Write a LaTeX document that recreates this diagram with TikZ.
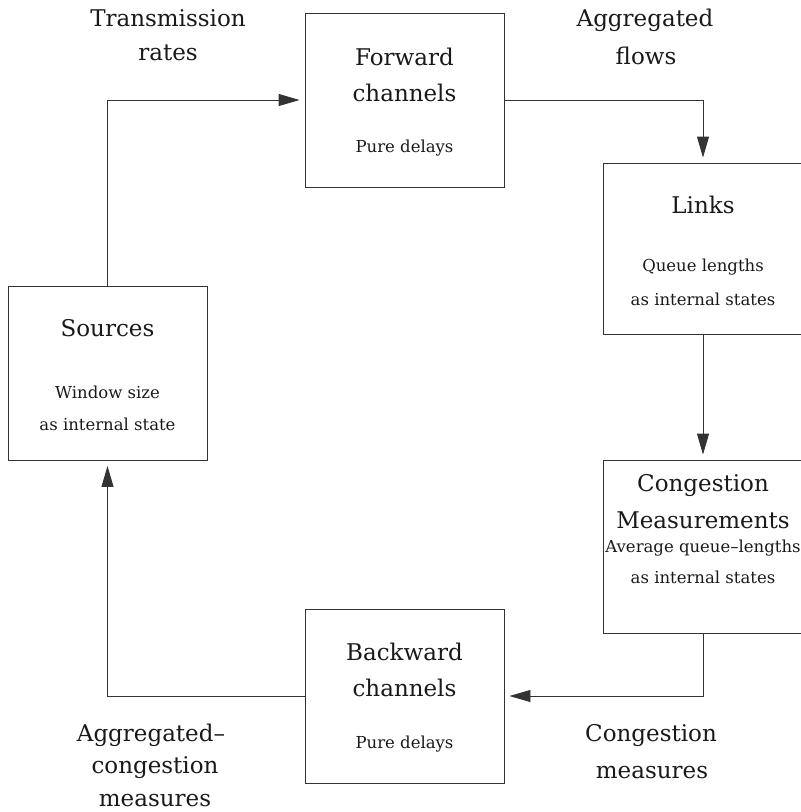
\documentclass[tikz,border=0pt]{standalone}
\usepackage{fontspec}
\setmainfont{DejaVu Serif}
\usetikzlibrary{arrows.meta}
\begin{document}
\begin{tikzpicture}[x=1pt,y=-1pt,
  box/.style={draw=black!80,line width=0.9pt,minimum width=199pt,minimum height=174pt,inner sep=0pt},
  big/.style={font=\fontsize{23}{27}\selectfont,inner sep=0pt,text=black!90,anchor=base,yshift=-8pt},
  small/.style={font=\fontsize{16.5}{20}\selectfont,inner sep=0pt,text=black!90,anchor=base,yshift=-5.5pt},
  conn/.style={draw=black!80,line width=0.9pt,-{Triangle[length=21pt,width=12pt]},shorten >=5pt}]
\useasboundingbox (0,0) rectangle (801,812);
\clip (0,0) rectangle (801,812);
% boxes
\node[box] (src) at (107.5,373.5) {};
\node[box] (fwd) at (404.5,100) {};
\node[box,minimum width=200pt,minimum height=171pt] (lnk) at (703,248.5) {};
\node[box,minimum width=200pt,minimum height=173pt] (cm) at (703,546.5) {};
\node[box] (bwd) at (404.5,696) {};
% box texts
\node[big] (t1) at (107.5,328) {Sources};
\node[small] (t2) at (107.5,393) {Window size};
\node[small] (t3) at (107.5,425) {as internal state};
\node[big] (f1) at (404.5,57) {Forward};
\node[big] (f2) at (404.5,93) {channels};
\node[small] (f3) at (404.5,147) {Pure delays};
\node[big] (l1) at (703,205) {Links};
\node[small] (l2) at (703,266) {Queue lengths};
\node[small] (l3) at (703,300) {as internal states};
\node[big] (c1) at (703,483) {Congestion};
\node[big] (c2) at (703,520) {Measurements};
\node[small] (c3) at (703,547) {Average queue–lengths};
\node[small] (c4) at (703,578) {as internal states};
\node[big] (b1) at (404.5,652) {Backward};
\node[big] (b2) at (404.5,688) {channels};
\node[small] (b3) at (404.5,743) {Pure delays};
% labels
\node[big] (a1) at (168,18) {Transmission};
\node[big] (a2) at (168,52) {rates};
\node[big] (g1) at (645,18) {Aggregated};
\node[big] (g2) at (646,56) {flows};
\node[big] (m1) at (651,733) {Congestion};
\node[big] (m2) at (652,770) {measures};
\node[big] (k1) at (151,733) {Aggregated–};
\node[big] (k2) at (155,765) {congestion};
\node[big] (k3) at (155,798) {measures};
% connectors
\draw[conn] (src.north) |- (fwd.west);
\draw[conn] (fwd.east) -| (lnk.north);
\draw[conn] (lnk.south) -- (cm.north);
\draw[conn] (cm.south) |- (bwd.east);
\draw[conn] (bwd.west) -| (src.south);
\end{tikzpicture}
\end{document}
